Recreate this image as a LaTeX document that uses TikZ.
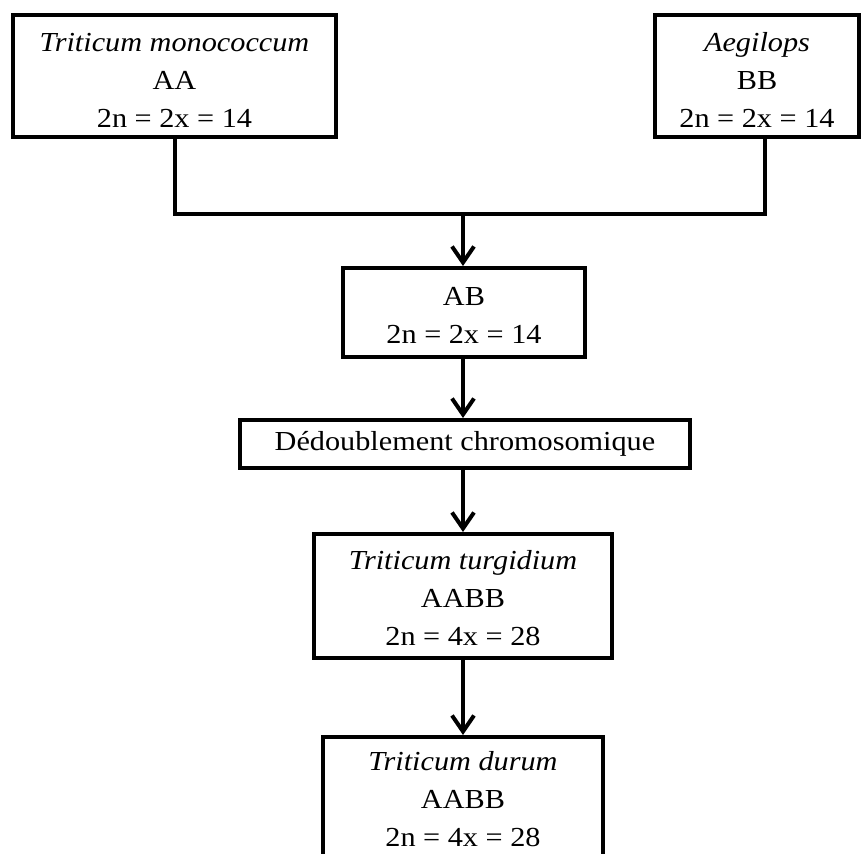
\documentclass[tikz,border=0pt]{standalone}
\usepackage{fontspec}
\setmainfont{Liberation Serif}[FakeStretch=1.1]
\usetikzlibrary{arrows.meta}
\newcommand\topstrut[1]{\rule{0pt}{#1}}
\begin{document}
\begin{tikzpicture}[x=1pt,y=-1pt,
  box/.style={draw, line width=4pt, inner sep=0pt, align=center,
    font=\fontsize{27.5}{38}\selectfont},
  conn/.style={line width=4pt, line join=miter},
  arr/.style={line width=4pt, -{Straight Barb[length=16pt,width=22pt]}}]
\useasboundingbox (0,0) rectangle (861,853);
\node[box, minimum width=323pt, minimum height=122pt] (b1) at (174.5,76)
  {\topstrut{28pt}\textit{Triticum monococcum}\\AA\\2n = 2x = 14};
\node[box, minimum width=204pt, minimum height=122pt] (b2) at (757,76)
  {\topstrut{28pt}\textit{Aegilops}\\BB\\2n = 2x = 14};
\node[box, minimum width=242pt, minimum height=89pt] (ab) at (464,312.5)
  {\topstrut{24pt}AB\\2n = 2x = 14};
\node[box, minimum width=450pt, minimum height=48pt] (ded) at (465,444)
  {Dédoublement chromosomique};
\node[box, minimum width=298pt, minimum height=124pt] (tt) at (463,596)
  {\topstrut{23pt}\textit{Triticum turgidium}\\AABB\\2n = 4x = 28};
\node[box, minimum width=280pt, minimum height=124pt] (td) at (463,799)
  {\topstrut{20pt}\textit{Triticum durum}\\AABB\\2n = 4x = 28};
\coordinate (j) at (463,214);
\coordinate (s2) at ([xshift=8pt]b2.south);
\draw[conn] (b1.south) -- (b1.south |- j) -- (s2 |- j) -- (s2);
\draw[arr] (j) -- (ab.north -| j);
\draw[arr] (ab.south -| j) -- (ded.north -| j);
\draw[arr] (ded.south -| j) -- (tt.north -| j);
\draw[arr] (tt.south -| j) -- (td.north -| j);
\end{tikzpicture}
\end{document}
